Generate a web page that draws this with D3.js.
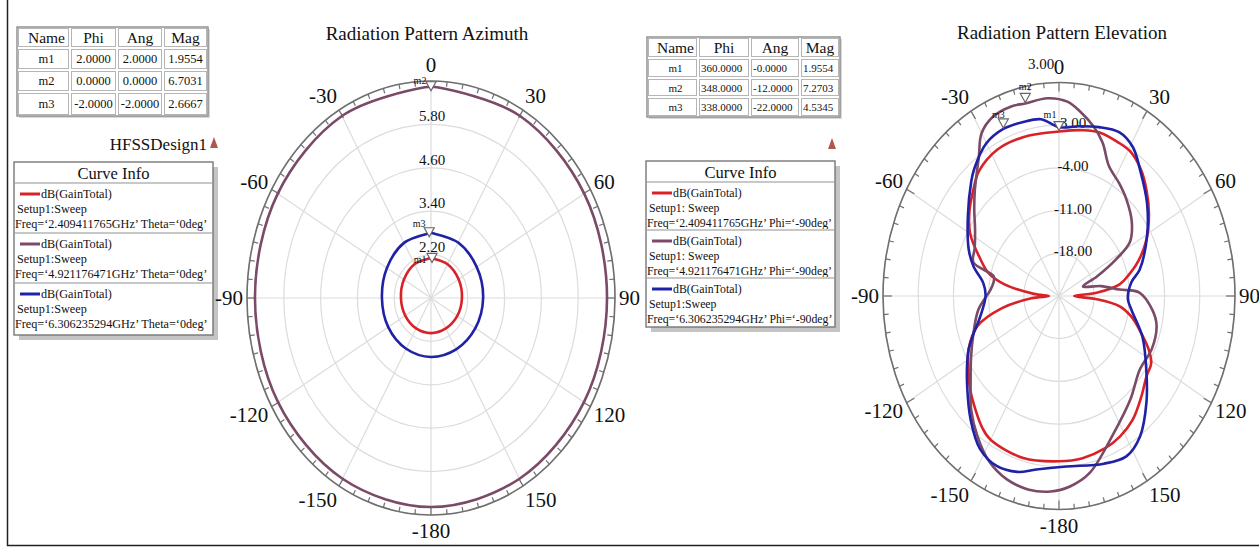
<!DOCTYPE html>
<html>
<head>
<meta charset="utf-8">
<script src="https://cdn.jsdelivr.net/npm/d3@7"></script>
<style>
  body { margin: 0; background: #fff; }
  text { font-family: "Liberation Serif", "Times New Roman", serif; fill: #111; }
</style>
</head>
<body>
<svg id="chart" width="1259" height="548"></svg>
<script>
"use strict";

/* ---------- data ---------- */

// angle tick labels shared by both polar plots
var angleLabels = [0, 30, 60, 90, 120, 150, -180, -150, -120, -90, -60, -30];

// azimuth plot (Theta = 0deg, sweep over Phi), values in dB
var azAngles = [-180, -150, -120, -90, -60, -30, -2, 0, 2, 30, 60, 90, 120, 150];
var azRed    = [1.97, 1.97, 1.97, 1.98, 2.02, 2.08, 2.10, 2.11, 2.10, 2.08, 2.04, 2.01, 1.99, 1.97];
var azMauve  = [6.78, 6.77, 6.76, 6.74, 6.77, 6.81, 6.83, 6.83, 6.83, 6.81, 6.77, 6.74, 6.76, 6.77];
var azBlue   = [2.63, 2.62, 2.61, 2.60, 2.66, 2.76, 2.79, 2.80, 2.79, 2.77, 2.72, 2.70, 2.67, 2.64];
var azRingValues = [2.2, 3.4, 4.6, 5.8];

// elevation plot (Phi = -90deg, sweep over Theta), values in dB
var elRedAngles = [-180, -165, -150, -145, -131, -124, -116, -107, -100, -94, -90, -86, -80, -75, -69, -60, -52, -45, -38, -27, -15, 0,
                   10, 17, 25, 31, 38, 45, 53, 62, 70, 76, 81, 86, 90, 94, 98, 103, 109, 116, 121, 127, 135, 144, 152, 160, 170];
var elRed      = [2.1, 2.5, 2.2, 1.5, -1.6, -3.3, -5.0, -8.0, -13.5, -19.5, -23.0, -20.0, -14.0, -10.5, -8.3, -4.6, -2.4, -0.8, 0.9, 1.95, 2.0, 1.96,
                   2.6, 3.0, 2.8, 2.6, 1.4, -0.4, -2.6, -5.3, -8.2, -10.7, -12.8, -17.5, -22.0, -17.5, -12.8, -10.3, -8.1, -5.2, -3.6, -3.2, -1.8, 0.0, 1.0, 1.6, 2.0];

var elMauveAngles = [-177, -169, -161, -153, -145, -137, -128, -120, -111, -98, -86, -80, -76, -72, -65, -57, -50, -44, -35, -30, -24, -17, -12, -4,
                     3, 8, 14, 19, 25, 33, 40, 50, 58, 62, 67, 72, 79, 85, 88, 97, 104, 115, 127, 140, 155, 168, 176];
var elMauve      = [7.1, 7.3, 6.8, 5.5, 3.2, 0.6, -2.7, -4.8, -6.7, -8.8, -11.3, -11.8, -11.6, -7.1, -6.5, -5.1, -3.0, -0.9, 2.8, 5.8, 7.2, 7.5, 7.27, 7.5,
                     6.9, 5.5, 3.6, 1.6, -1.5, -3.0, -4.2, -6.1, -8.4, -12.1, -16.8, -20.0, -16.5, -12.9, -9.0, -6.3, -5.0, -4.6, -4.9, -2.9, 0.2, 4.6, 6.3];

var elBlueAngles = [-171, -164, -156, -148, -139, -129, -121, -116, -111, -102, -90, -82, -74, -67, -54, -43, -39, -30, -22, -14, -7, 0,
                    8, 16, 24, 31, 38, 49, 61, 75, 81, 92, 99, 112, 125, 135, 145, 153, 162, 177];
var elBlue      = [3.8, 5.0, 5.5, 4.6, 1.8, -1.5, -3.7, -5.0, -6.6, -9.0, -10.4, -9.8, -7.3, -5.5, -2.6, 0.6, 1.8, 3.9, 4.53, 4.4, 4.2, 2.67,
                   3.1, 3.8, 4.4, 3.5, 1.2, -1.8, -5.0, -8.4, -10.4, -11.3, -10.4, -7.1, -3.8, -0.4, 3.1, 4.5, 3.9, 3.0];
var elRingValues = [-18, -11, -4, 3];

// marker tables
var azMarkNames = ["m1", "m2", "m3"];
var azMarkPhi   = [2.0, 0.0, -2.0];
var azMarkAng   = [2.0, 0.0, -2.0];
var azMarkMag   = [1.9554, 6.7031, 2.6667];

var elMarkNames = ["m1", "m2", "m3"];
var elMarkPhi   = [360.0, 348.0, 338.0];
var elMarkAng   = ["-0.0000", "-12.0000", "-22.0000"];
var elMarkTheta = [0, -12, -22];
var elMarkMag   = [1.9554, 7.2703, 4.5345];

// curve info legends
var azLegend = [
  ["dB(GainTotal)", "Setup1:Sweep", "Freq=\u20182.409411765GHz\u2019 Theta=\u20180deg\u2019"],
  ["dB(GainTotal)", "Setup1:Sweep", "Freq=\u20184.921176471GHz\u2019 Theta=\u20180deg\u2019"],
  ["dB(GainTotal)", "Setup1:Sweep", "Freq=\u20186.306235294GHz\u2019 Theta=\u20180deg\u2019"]
];
var elLegend = [
  ["dB(GainTotal)", "Setup1: Sweep", "Freq=\u20182.409411765GHz\u2019 Phi=\u2018-90deg\u2019"],
  ["dB(GainTotal)", "Setup1: Sweep", "Freq=\u20184.921176471GHz\u2019 Phi=\u2018-90deg\u2019"],
  ["dB(GainTotal)", "Setup1:Sweep", "Freq=\u20186.306235294GHz\u2019 Phi=\u2018-90deg\u2019"]
];

var colors = ["#d92228", "#7a4a66", "#1f22a6"];

/* ---------- setup ---------- */

var svg = d3.select("#chart");

// outer frame of the screenshot (left and bottom edges only are visible)
svg.append("path")
  .attr("d", "M7.5,0 V545.5 H1259")
  .attr("fill", "none").attr("stroke", "#222").attr("stroke-width", 1.5);

/* ---------- marker tables ---------- */

function fmt(v) { return typeof v === "string" ? v : v.toFixed(4); }

function table(o) {
  var g = svg.append("g");
  var xs = [o.x];
  o.widths.forEach(function (w) { xs.push(xs[xs.length - 1] + w); });
  var ys = [o.y];
  o.heights.forEach(function (h) { ys.push(ys[ys.length - 1] + h); });

  g.append("rect").attr("x", xs[0] + 2).attr("y", ys[0] + 2)
    .attr("width", xs[xs.length - 1] - xs[0]).attr("height", ys[ys.length - 1] - ys[0])
    .attr("fill", "#d8d8d8");
  g.append("rect").attr("x", xs[0]).attr("y", ys[0])
    .attr("width", xs[xs.length - 1] - xs[0]).attr("height", ys[ys.length - 1] - ys[0])
    .attr("fill", "#fff").attr("stroke", "#8a8a8a").attr("stroke-width", 1.4);

  var rows = [["Name", "Phi", "Ang", "Mag"]];
  o.names.forEach(function (n, i) { rows.push([n, fmt(o.phi[i]), fmt(o.ang[i]), fmt(o.mag[i])]); });

  rows.forEach(function (row, ri) {
    row.forEach(function (cell, ci) {
      g.append("rect")
        .attr("x", xs[ci] + 1.5).attr("y", ys[ri] + 1.5)
        .attr("width", xs[ci + 1] - xs[ci] - 3).attr("height", ys[ri + 1] - ys[ri] - 3)
        .attr("fill", "none").attr("stroke", "#b5b5b5").attr("stroke-width", 1);
      var head = ri === 0;
      var center = head || ci === 0 || o.centerCells;
      g.append("text")
        .attr("x", center ? (xs[ci] + xs[ci + 1]) / 2 + (ci === 0 ? 3 : 0) : xs[ci] + 3)
        .attr("y", (ys[ri] + ys[ri + 1]) / 2 + (head ? 5 : 4))
        .attr("text-anchor", center ? "middle" : "start")
        .style("font-size", head ? "15.5px" : o.cellFont)
        .text(cell);
    });
  });
}

table({
  x: 17, y: 27, widths: [53, 47, 46, 45], heights: [21, 22, 22, 24],
  names: azMarkNames, phi: azMarkPhi, ang: azMarkAng, mag: azMarkMag,
  cellFont: "12.5px", centerCells: true
});
table({
  x: 647, y: 37, widths: [51, 52, 50, 40], heights: [21, 20, 19, 20],
  names: elMarkNames, phi: elMarkPhi, ang: elMarkAng, mag: elMarkMag,
  cellFont: "11px", centerCells: false
});

/* ---------- curve info legends ---------- */

function designMark(x, y) {
  svg.append("path")
    .attr("d", "M" + x + "," + (y - 11) + " L" + (x - 4) + "," + y + " L" + (x + 4) + "," + y + " Z")
    .attr("fill", "#b0584c");
}
svg.append("text").attr("x", 207).attr("y", 150).attr("text-anchor", "end")
  .style("font-size", "17px").text("HFSSDesign1");
designMark(214, 148);
designMark(832, 149);

function legend(o) {
  var g = svg.append("g");
  g.append("rect").attr("x", o.x + 5).attr("y", o.y + 5).attr("width", o.w).attr("height", o.h)
    .attr("fill", "#c4c4c4");
  g.append("rect").attr("x", o.x).attr("y", o.y).attr("width", o.w).attr("height", o.h)
    .attr("fill", "#fff").attr("stroke", "#777").attr("stroke-width", 1.4);
  g.append("text").attr("x", o.x + o.w / 2).attr("y", o.y + 17).attr("text-anchor", "middle")
    .style("font-size", "16.5px").text("Curve Info");
  g.append("line").attr("x1", o.x + 1).attr("x2", o.x + o.w - 1)
    .attr("y1", o.y + 21).attr("y2", o.y + 21).attr("stroke", "#c8c8c8").attr("stroke-width", 2);

  o.entries.forEach(function (e, i) {
    var top = o.y + 21 + i * o.block;
    if (i > 0) {
      g.append("line").attr("x1", o.x + 1).attr("x2", o.x + o.w - 1)
        .attr("y1", top).attr("y2", top).attr("stroke", "#c8c8c8").attr("stroke-width", 2);
    }
    g.append("line").attr("x1", o.x + 6).attr("x2", o.x + 26)
      .attr("y1", top + 11).attr("y2", top + 11)
      .attr("stroke", colors[i]).attr("stroke-width", 3);
    g.append("text").attr("x", o.x + 27).attr("y", top + 15)
      .style("font-size", o.font).text(e[0]);
    g.append("text").attr("x", o.x + 3).attr("y", top + 30)
      .style("font-size", o.font).text(e[1]);
    g.append("text").attr("x", o.x + 1).attr("y", top + 45)
      .style("font-size", o.font).text(e[2]);
  });
}

legend({ x: 14, y: 162, w: 199, h: 173, block: 50, entries: azLegend, font: "12.2px" });
legend({ x: 646, y: 161, w: 189, h: 166, block: 48, entries: elLegend, font: "11.8px" });

/* ---------- polar plot ---------- */

function polar(o) {
  var g = svg.append("g");
  var r = d3.scaleLinear().domain(o.domain).range([0, 1]);

  function px(a, v) { return o.cx + r(v) * o.rx * Math.sin(a * Math.PI / 180); }
  function py(a, v) { return o.cy - r(v) * o.ry * Math.cos(a * Math.PI / 180); }

  // rings
  var ringVals = o.rings.concat([o.domain[1]]);
  g.selectAll(".ring").data(ringVals).enter().append("ellipse")
    .attr("cx", o.cx).attr("cy", o.cy)
    .attr("rx", function (d) { return r(d) * o.rx; })
    .attr("ry", function (d) { return r(d) * o.ry; })
    .attr("fill", "none").attr("stroke", "#dcdcdc").attr("stroke-width", 1.2);

  // spokes
  g.selectAll(".spoke").data(d3.range(0, 360, 30)).enter().append("line")
    .attr("x1", o.cx).attr("y1", o.cy)
    .attr("x2", function (d) { return px(d, o.domain[1]); })
    .attr("y2", function (d) { return py(d, o.domain[1]); })
    .attr("stroke", "#dcdcdc").attr("stroke-width", 1.2);

  // outer ring with ticks
  g.append("ellipse")
    .attr("cx", o.cx).attr("cy", o.cy).attr("rx", o.rx).attr("ry", o.ry)
    .attr("fill", "none").attr("stroke", "#6f6f6f").attr("stroke-width", 1.6);
  g.selectAll(".tick").data(d3.range(-180, 180, 5)).enter().append("line")
    .each(function (d) {
      var len = d % 30 === 0 ? 9 : 5;
      var s = Math.sin(d * Math.PI / 180), c = Math.cos(d * Math.PI / 180);
      d3.select(this)
        .attr("x1", o.cx + o.rx * s).attr("y1", o.cy - o.ry * c)
        .attr("x2", o.cx + (o.rx - len) * s).attr("y2", o.cy - (o.ry - len) * c);
    })
    .attr("stroke", "#6f6f6f").attr("stroke-width", 1.2);

  // angle labels: left side end-anchored, right side start-anchored
  g.selectAll(".alab").data(angleLabels).enter().append("text")
    .attr("x", function (d) {
      var s = Math.sin(d * Math.PI / 180);
      return o.cx + o.rx * s + o.hGap * s;
    })
    .attr("y", function (d) {
      var c = Math.cos(d * Math.PI / 180);
      return o.cy - o.ry * c - 16 * c + 7;
    })
    .attr("text-anchor", function (d) {
      return (d === 0 || d === -180) ? "middle" : (d > 0 ? "start" : "end");
    })
    .style("font-size", "21px")
    .text(function (d) { return d; });

  // ring value labels
  g.selectAll(".rlab").data(o.rings).enter().append("text")
    .attr("x", o.cx + o.labelDx)
    .attr("y", function (d) { return o.cy - r(d) * o.ry + o.labelDy; })
    .attr("text-anchor", "middle")
    .style("font-size", "15px")
    .text(function (d) { return d.toFixed(2); });

  // curves
  var line = d3.line()
    .x(function (d) { return px(d[0], d[1]); })
    .y(function (d) { return py(d[0], d[1]); })
    .curve(d3.curveCatmullRomClosed.alpha(0.5));

  o.series.forEach(function (s) {
    g.append("path")
      .datum(d3.zip(s.angles, s.values))
      .attr("d", line)
      .attr("fill", "none")
      .attr("stroke", colors[s.color])
      .attr("stroke-width", 2.6)
      .attr("stroke-linejoin", "round");
  });

  // markers
  o.markers.forEach(function (m) {
    var x = px(m.a, m.v), y = py(m.a, m.v);
    g.append("path")
      .attr("d", "M" + x + "," + (y - 1) + " L" + (x - 5) + "," + (y - 10) + " L" + (x + 5) + "," + (y - 10) + " Z")
      .attr("fill", "#fff").attr("stroke", "#666").attr("stroke-width", 1.2);
    g.append("text")
      .attr("x", x + m.lx).attr("y", y + m.ly)
      .attr("text-anchor", "middle")
      .style("font-size", "10px")
      .text(m.name);
  });
  return g;
}

// azimuth
polar({
  cx: 431, cy: 298, rx: 184, ry: 217, domain: [1, 7], hGap: 4,
  rings: azRingValues, labelDx: 1, labelDy: -3,
  series: [
    { angles: azAngles, values: azMauve, color: 1 },
    { angles: azAngles, values: azBlue, color: 2 },
    { angles: azAngles, values: azRed, color: 0 }
  ],
  markers: [
    { name: azMarkNames[0], a: azMarkAng[0], v: azMarkMag[0], lx: -12, ly: 0 },
    { name: azMarkNames[1], a: azMarkAng[1], v: azMarkMag[1], lx: -11, ly: -8 },
    { name: azMarkNames[2], a: azMarkAng[2], v: azMarkMag[2], lx: -10, ly: -11 }
  ]
});

// elevation
polar({
  cx: 1059, cy: 296, rx: 176, ry: 213.5, domain: [-25, 10], hGap: 4,
  rings: elRingValues, labelDx: 14, labelDy: 3,
  series: [
    { angles: elRedAngles, values: elRed, color: 0 },
    { angles: elMauveAngles, values: elMauve, color: 1 },
    { angles: elBlueAngles, values: elBlue, color: 2 }
  ],
  markers: [
    { name: elMarkNames[0], a: elMarkTheta[0], v: elMarkMag[0], lx: -9, ly: -14 },
    { name: elMarkNames[1], a: elMarkTheta[1], v: elMarkMag[1], lx: 0, ly: -13 },
    { name: elMarkNames[2], a: elMarkTheta[2], v: elMarkMag[2], lx: -5, ly: -11 }
  ]
});
// stray ring label next to the 0 degree label
svg.append("text").attr("x", 1041).attr("y", 69).attr("text-anchor", "middle")
  .style("font-size", "15px").text("3.00");

/* ---------- titles ---------- */

svg.append("text").attr("x", 427).attr("y", 40).attr("text-anchor", "middle")
  .style("font-size", "19px").text("Radiation Pattern Azimuth");
svg.append("text").attr("x", 1062).attr("y", 39).attr("text-anchor", "middle")
  .style("font-size", "19px").text("Radiation Pattern Elevation");
</script>
</body>
</html>
